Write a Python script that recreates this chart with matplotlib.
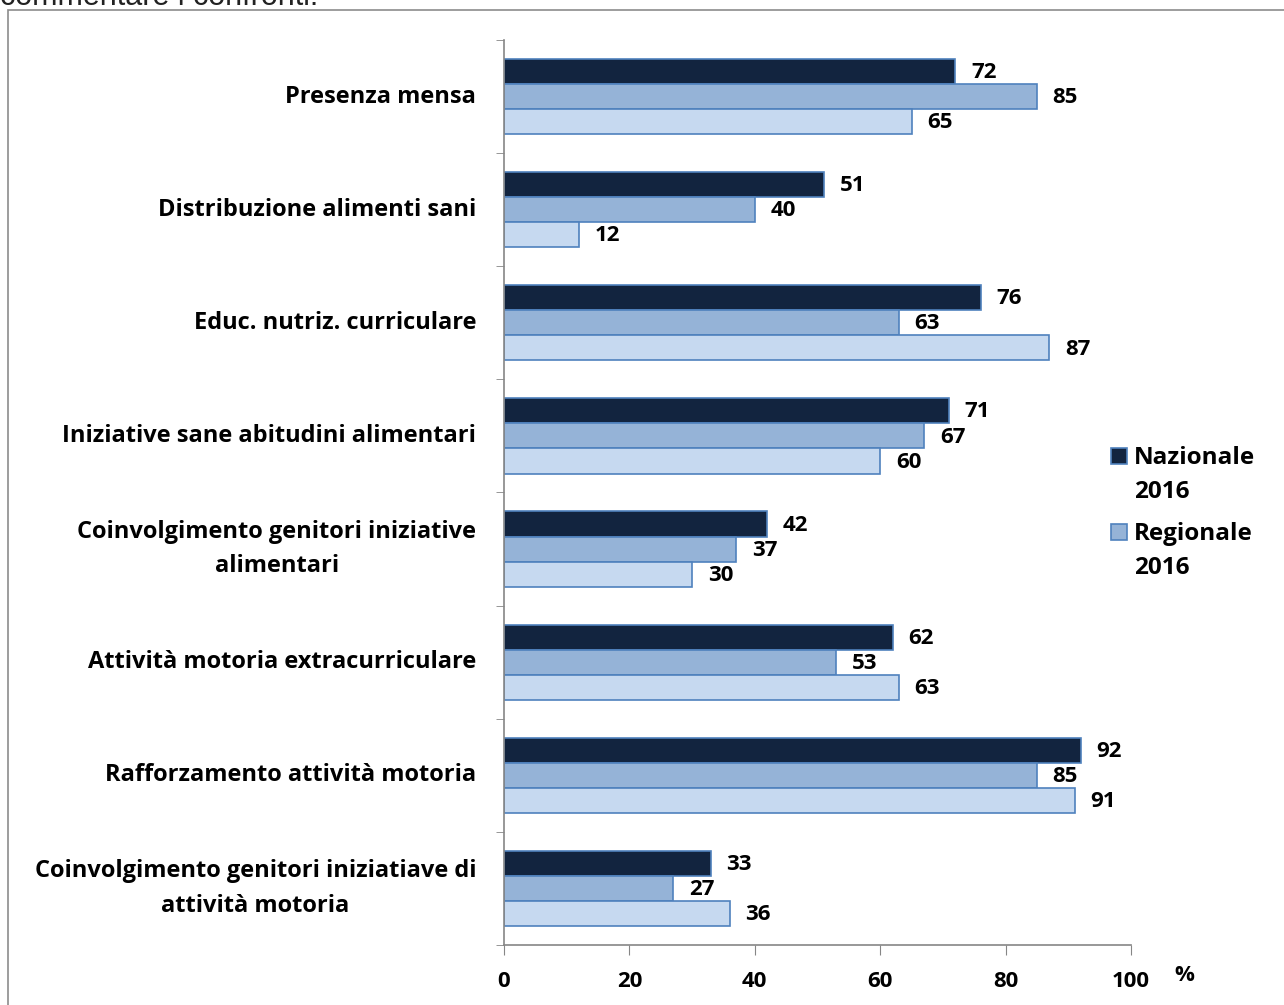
import matplotlib
matplotlib.use("Agg")
import matplotlib.pyplot as plt
import matplotlib.patches as mpatches
import numpy as np

# DATA
categories = [
    "Presenza mensa",
    "Distribuzione alimenti sani",
    "Educ. nutriz. curriculare",
    "Iniziative sane abitudini alimentari",
    "Coinvolgimento genitori iniziative\nalimentari",
    "Attività motoria extracurriculare",
    "Rafforzamento attività motoria",
    "Coinvolgimento genitori iniziatiave di\nattività motoria",
]
nazionale_2016 = [72, 51, 76, 71, 42, 62, 92, 33]
regionale_2016 = [85, 40, 63, 67, 37, 53, 85, 27]
terza_serie = [65, 12, 87, 60, 30, 63, 91, 36]
legend_labels = ["Nazionale\n2016", "Regionale\n2016"]
x_ticks = [0, 20, 40, 60, 80, 100]

FONT = "Open Sans"
EDGE = "#4F81BD"
COLORS = ["#12243F", "#95B3D7", "#C6D9F0"]
FS = 16

W, H = 1284, 1005
fig = plt.figure(figsize=(W / 100, H / 100), dpi=100)
ax = fig.add_axes([504 / W, 1 - 945 / H, (1131 - 504) / W, (945 - 40) / H])

# cropped text at top and grey frame
fig.text(0.0, 1 - 5 / H, "commentare i confronti.", fontsize=22, family="Liberation Sans",
         color="#222222", va="baseline", ha="left")
frame = mpatches.Rectangle((8 / W, -0.05), 1.2, 1 - 10 / H + 0.05, transform=fig.transFigure,
                           fill=False, edgecolor="#8C8C8C", linewidth=1.2)
fig.patches.append(frame)

y = np.arange(len(categories))
h = 0.222
series = [nazionale_2016, regionale_2016, terza_serie]
for i, vals in enumerate(series):
    pos = y + (i - 1) * h
    ax.barh(pos, vals, height=h, color=COLORS[i], edgecolor=EDGE, linewidth=1.2)
    for p, v in zip(pos, vals):
        ax.text(v + 2.5, p + 0.01, str(v), va="center", ha="left", fontsize=FS,
                fontweight="bold", family=FONT)

ax.set_xlim(0, 100)
ax.set_ylim(len(categories) - 0.5, -0.5)
ax.set_xticks(x_ticks)
ax.set_xticklabels([str(t) for t in x_ticks], fontsize=FS, fontweight="bold", family=FONT)
ax.set_yticks(y)
ax.set_yticklabels(categories, fontsize=17, fontweight="bold", family=FONT,
                   multialignment="center", linespacing=1.6, va="center")
ax.set_yticks(np.arange(len(categories) + 1) - 0.5, minor=True)
ax.tick_params(axis="y", which="major", length=0, pad=20)
ax.tick_params(axis="y", which="minor", length=6, color="#868686", direction="out")
ax.tick_params(axis="x", length=7, color="#868686", direction="out", pad=12)
for s in ["top", "right"]:
    ax.spines[s].set_visible(False)
for s in ["left", "bottom"]:
    ax.spines[s].set_color("#868686")
    ax.spines[s].set_linewidth(1.2)

fig.text(1184 / W, 1 - 975 / H, "%", fontsize=FS, fontweight="bold", family=FONT,
         ha="center", va="center")

# legend: square aligned with first text line
for k, lab in enumerate(legend_labels):
    ytop = 456 + k * 76
    sq = mpatches.Rectangle((1111 / W, 1 - (ytop + 8) / H), 16 / W, 16 / H,
                            transform=fig.transFigure, facecolor=COLORS[k],
                            edgecolor=EDGE, linewidth=1.2)
    fig.patches.append(sq)
    fig.text(1134 / W, 1 - (ytop - 10) / H, lab, fontsize=17.5, fontweight="bold",
             family=FONT, ha="left", va="top", linespacing=1.55)

fig.savefig("out.png", dpi=100)
